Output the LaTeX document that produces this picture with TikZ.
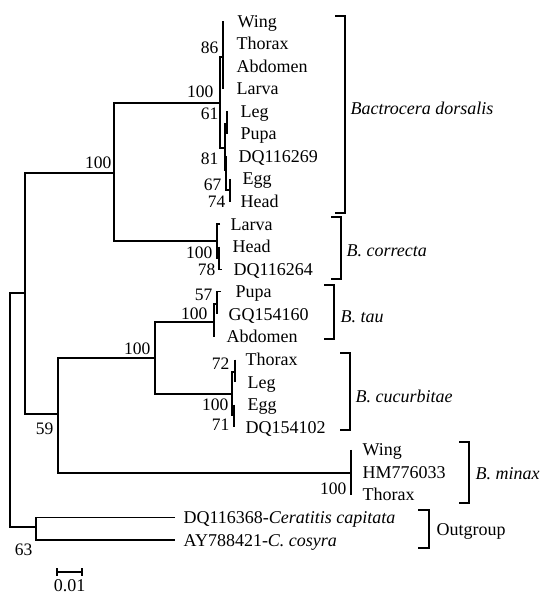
\documentclass[tikz,border=0pt]{standalone}
\usepackage{fontspec}
\setmainfont{Liberation Serif}
\usepackage{tikz}

\begin{document}
\begin{tikzpicture}[x=1pt, y=-1pt, line width=1.3pt,
    leaf/.style={anchor=west, inner sep=0pt, text height=12pt, text depth=0pt, font=\fontsize{18}{20}\selectfont},
    boot/.style={anchor=east, inner sep=0pt, text height=12pt, text depth=0pt, font=\fontsize{17.5}{19}\selectfont},
    clade/.style={leaf, font=\fontsize{18}{20}\selectfont\itshape},
    heavy/.style={line width=2.4pt}]
    \useasboundingbox (0,0) rectangle (544,595);

    \foreach \n/\x/\r/\t in {dWing/237/0/Wing, dThorax/236/1/Thorax, dAbdomen/236/2/Abdomen,
        dLarva/236/3/Larva, dLeg/240/4/Leg, dPupa/240/5/Pupa, dDQ/238/6/DQ116269,
        dEgg/242/7/Egg, dHead/240/8/Head,
        cLarva/230/9/Larva, cHead/232/10/Head, cDQ/233/11/DQ116264,
        tPupa/235/12/Pupa, tGQ/228/13/GQ154160, tAbdomen/226/14/Abdomen,
        uThorax/245/15/Thorax, uLeg/247/16/Leg, uEgg/247/17/Egg, uDQ/245/18/DQ154102,
        mWing/362/19/Wing, mHM/362/20/HM776033, mThorax/362/21/Thorax}
        \node[leaf] (\n) at (\x, {21+22.57*\r}) {\t};
    \node[leaf, inner xsep=8pt] (capitata) at (175, {21+22.57*22}) {DQ116368-\textit{Ceratitis capitata}};
    \node[leaf, inner xsep=8pt] (cosyra) at (175, {21+22.57*23}) {AY788421-\textit{C. cosyra}};

    \coordinate (root) at (10,410);
    \coordinate (ingroup) at (25,293);
    \coordinate (outgroup) at (36,527);
    \coordinate (dorcor) at (114,173);
    \coordinate (rest) at (58,414);
    \coordinate (dors) at (220,103);
    \coordinate (corr) at (217,241);
    \coordinate (corrB) at (219,258);
    \coordinate (dorsA) at (223,57);
    \coordinate (dorsB) at (225,148);
    \coordinate (legpupa) at (227,124);
    \coordinate (dq81) at (226,170);
    \coordinate (egghead) at (230,190);
    \coordinate (taucuc) at (155,358);
    \coordinate (tau) at (214,322);
    \coordinate (tauA) at (217,304);
    \coordinate (cucu) at (232,394);
    \coordinate (cucuA) at (235,372);
    \coordinate (cucuB) at (234,415);
    \coordinate (minax) at (351,473);

    \draw (root) |- (ingroup) (root) |- (outgroup);
    \draw (ingroup) |- (dorcor) (ingroup) |- (rest);
    \draw (dorcor) |- (dors) (dorcor) |- (corr);
    \draw (dors) |- (dorsA) (dors) |- (dorsB);
    \draw (dorsA |- dWing.west) -- (dorsA |- dLarva.west);
    \draw (dorsB) |- (legpupa) (dorsB) |- (dq81) (dq81) |- (egghead);
    \draw (legpupa |- dLeg.west) -- (legpupa |- dPupa.west);
    \draw[heavy] (dq81 |- dDQ.west) -- (dq81 |- egghead);
    \draw (egghead |- dEgg.west) -- (egghead |- dHead.west);
    \draw (corr |- cLarva.west) ++(3,0) -- ++(-3,0) -- (corrB -| corr) -- (corrB);
    \draw (corrB |- cHead.west) -- (corrB |- cDQ.west) -- ++(3,0);
    \draw (rest) |- (taucuc) (rest) |- (minax);
    \draw (taucuc) |- (tau) (taucuc) |- (cucu);
    \draw (tauA) -- (tauA -| tau) -- (tau |- tAbdomen.west);
    \draw (tauA |- tPupa.west) ++(4,0) -- ++(-4,0) -- (tauA |- tGQ.west);
    \draw (cucuA) -| (cucu) |- (cucuB);
    \draw (cucuA |- uThorax.west) -- (cucuA |- uLeg.west);
    \draw (cucuB |- uEgg.west) -- (cucuB |- uDQ.west);
    \draw (minax |- mWing.west) -- (minax |- mThorax.west);
    \draw (capitata.west) -| (outgroup) |- (cosyra.west);

    \node[boot] (bsDorcor) at (112,162) {100};
    \node[boot] (bsDors) at (214,91) {100};
    \node[boot] (bsDorsA) at (219,47) {86};
    \node[boot] (bsLegPupa) at (219,113) {61};
    \node[boot] (bsDQ) at (219,158) {81};
    \node[boot] (bsEgg) at (222,184) {67};
    \node[boot] (bsHead) at (226,201) {74};
    \node[boot] (bsCorr) at (213,252) {100};
    \node[boot] (bsCorrB) at (216,269) {78};
    \node[boot] (bsTauA) at (213,294) {57};
    \node[boot] (bsTau) at (208,313) {100};
    \node[boot] (bsTaucuc) at (151,348) {100};
    \node[boot] (bsCucuA) at (230,363) {72};
    \node[boot] (bsCucu) at (229,404) {100};
    \node[boot] (bsCucuB) at (230,424) {71};
    \node[boot] (bsRest) at (54,428) {59};
    \node[boot] (bsMinax) at (347,488) {100};
    \node[boot] (bsOut) at (33,549) {63};

    \draw (335,16) -| (345,213) -- (335,213);
    \node[clade] (dorsalis) at (350,108) {Bactrocera dorsalis};
    \draw (331,217) -| (341,279) -- (331,279);
    \node[clade] (correcta) at (346,250) {B. correcta};
    \draw (324,285) -| (334,339) -- (324,339);
    \node[clade] (btau) at (340,316) {B. tau};
    \draw (340,353) -| (350,430) -- (340,430);
    \node[clade] (cucurbitae) at (355,396) {B. cucurbitae};
    \draw (459,442) -| (469,503) -- (459,503);
    \node[clade] (bminax) at (475,473) {B. minax};
    \draw (418,510) -| (429,548) -- (418,548);
    \node[leaf] (outlabel) at (436,529) {Outgroup};

    \draw (57,568) -- (57,576) (57,572) -- (82,572) (82,568) -- (82,576);
    \node[leaf, anchor=center] (scale) at (69.5,585) {0.01};
\end{tikzpicture}
\end{document}
